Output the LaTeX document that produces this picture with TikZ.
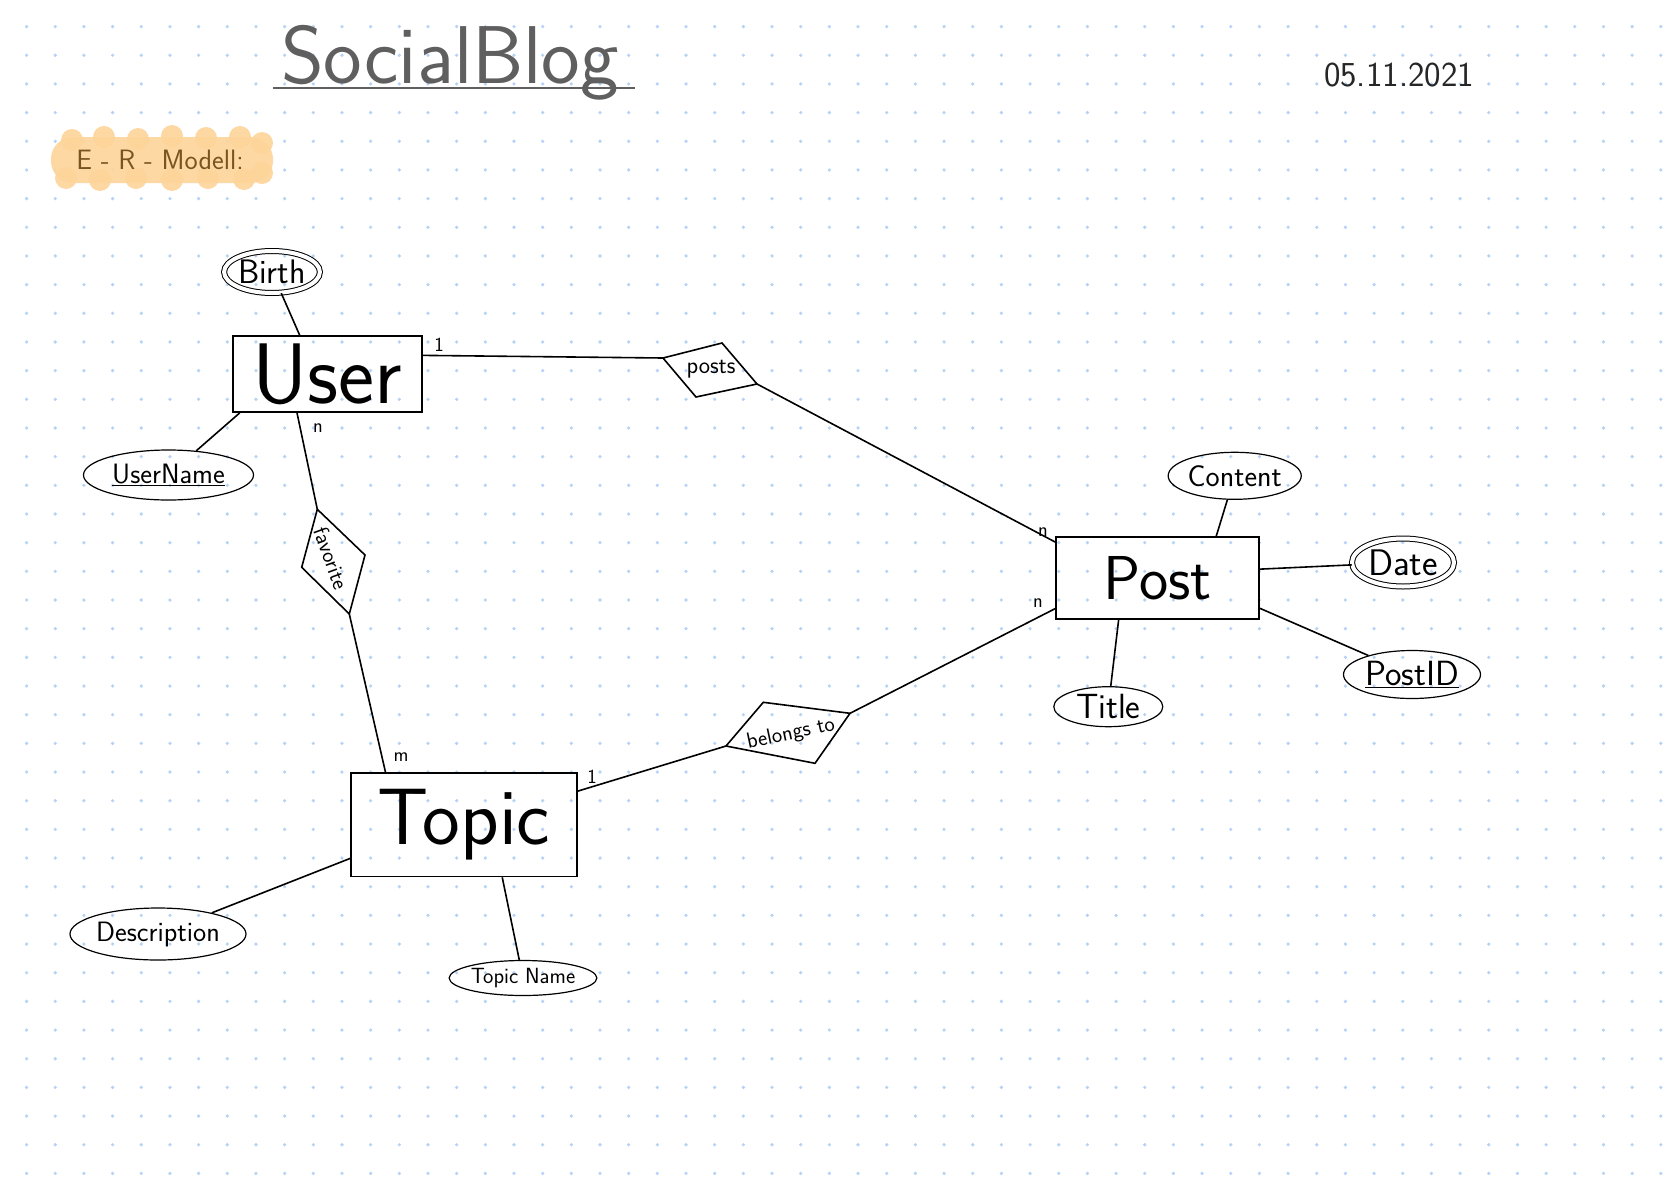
\documentclass[tikz,border=0pt]{standalone}
\usepackage{fontspec}
\usetikzlibrary{shapes.geometric,calc}
\definecolor{dotc}{RGB}{182,210,246}
\definecolor{hl}{RGB}{253,213,155}
\definecolor{hltext}{RGB}{120,85,30}
\definecolor{titlec}{RGB}{95,95,95}
\begin{document}
\begin{tikzpicture}[x=1pt,y=-1pt,
  ent/.style={draw,line width=1.6pt,inner sep=0pt,font=\sffamily\fontsize{#1}{#1}\selectfont},
  attr/.style={draw,ellipse,line width=1.2pt,inner sep=0pt,font=\sffamily\fontsize{#1}{#1}\selectfont},
  dblattr/.style={attr=#1,double,double distance=4pt,line width=1pt},
  conn/.style={line width=1.6pt},
  rel/.style={draw,line width=1.6pt,line join=miter},
  reltext/.style={inner sep=0pt,font=\sffamily\fontsize{#1}{#1}\selectfont},
  card/.style={inner sep=0pt,font=\sffamily\fontsize{20}{20}\selectfont}]
\useasboundingbox (0,0) rectangle (1678,1186);
\fill[white] (0,0) rectangle (1678,1186);
% dot grid
\foreach \i in {0,...,57}{\foreach \j in {0,...,40}{\fill[dotc] (26.6+28.67*\i,26.6+28.67*\j) circle (1.8pt);}}
% highlight
\begin{scope}[opacity=0.92]
\fill[hl,rounded corners=22pt] (51,137) rectangle (273,183);
\foreach \p in {(72,140),(104,137),(138,139),(172,136),(206,138),(240,137),(262,143),(66,178),(100,180),(136,178),(172,180),(208,178),(244,179),(262,173)}{\fill[hl] \p circle (11pt);}
\end{scope}
\node[font=\sffamily\fontsize{28}{30}\selectfont,text=hltext] (er) at (160,160) {E - R - Modell:};
% title and date
\node[anchor=base,font=\sffamily\fontsize{82}{86}\selectfont,text=titlec,inner sep=0pt] (title) at (450,83) {SocialBlog};
\coordinate (ul1) at (273,88);
\coordinate (ul2) at (635,88);
\draw[line width=1.6pt,titlec] (ul1) -- (ul2);
\node[font=\sffamily\fontsize{35}{36}\selectfont,text=black!85] (date) at (1399,75) {05.11.2021};
% entities
\node[ent=86,minimum width=189pt,minimum height=76pt] (user) at (327.5,374) {User};
\node[ent=62,minimum width=203pt,minimum height=82pt] (post) at (1157.5,578) {Post};
\node[ent=80,minimum width=226pt,minimum height=103.5pt] (topic) at (464,824.75) {Topic\hspace{26pt}};
% attributes
\node[dblattr=34,minimum width=90pt,minimum height=42pt] (birth) at (272,272) {Birth};
\node[attr=28,minimum width=170pt,minimum height=50pt] (uname) at (168.5,475) {\underline{UserName}};
\node[attr=30,minimum width=131pt,minimum height=47pt] (content) at (1234.7,475.8) {Content};
\node[dblattr=37,minimum width=102pt,minimum height=48pt] (date2) at (1403,562.5) {Date};
\node[attr=35,minimum width=137pt,minimum height=48pt] (postid) at (1412,674.5) {\underline{PostID}};
\node[attr=35,minimum width=109pt,minimum height=40pt] (title2) at (1108.3,706.7) {Title};
\node[attr=28,minimum width=176pt,minimum height=52pt] (descr) at (158,934) {Description};
\node[attr=22,minimum width=146pt,minimum height=35pt] (tname) at (523,978) {Topic Name};
% border points
\coordinate (uT) at ($(user.north west)!0.354!(user.north east)$);
\coordinate (uBL) at ($(user.south west)!0.04!(user.south east)$);
\coordinate (uB) at ($(user.south west)!0.34!(user.south east)$);
\coordinate (uR) at ($(user.north east)!0.26!(user.south east)$);
\coordinate (pL1) at ($(post.north west)!0.07!(post.south west)$);
\coordinate (pL2) at ($(post.north west)!0.866!(post.south west)$);
\coordinate (pT) at ($(post.north west)!0.787!(post.north east)$);
\coordinate (pR1) at ($(post.north east)!0.394!(post.south east)$);
\coordinate (pR2) at ($(post.north east)!0.862!(post.south east)$);
\coordinate (pB) at ($(post.south west)!0.31!(post.south east)$);
\coordinate (tT) at ($(topic.north west)!0.155!(topic.north east)$);
\coordinate (tR) at ($(topic.north east)!0.18!(topic.south east)$);
\coordinate (tL) at ($(topic.north west)!0.82!(topic.south west)$);
\coordinate (tB) at ($(topic.south west)!0.668!(topic.south east)$);
% relationships
\coordinate (pA) at (663,358); \coordinate (pBv) at (722,343);
\coordinate (pC) at (757,384); \coordinate (pD) at (696,397);
\draw[rel] (pA) -- (pBv) -- (pC) -- (pD) -- cycle;
\node[reltext=24] (posts) at (711,369) {posts};
\coordinate (fA) at (317.3,509.3); \coordinate (fB) at (365,555);
\coordinate (fC) at (349.3,614); \coordinate (fD) at (301.7,567.3);
\draw[rel] (fA) -- (fB) -- (fC) -- (fD) -- cycle;
\node[reltext=22,rotate=-70] (fav) at (331,558) {favorite};
\coordinate (bA) at (726,746); \coordinate (bB) at (763.3,702.3);
\coordinate (bC) at (850,713.3); \coordinate (bD) at (815,763.3);
\draw[rel] (bA) -- (bB) -- (bC) -- (bD) -- cycle;
\node[reltext=22,rotate=12] (belongs) at (791,734) {belongs to};
% connectors
\draw[conn] (birth) -- (uT);
\draw[conn] (uname) -- (uBL);
\draw[conn] (uR) -- (pA);
\draw[conn] (pC) -- (pL1);
\draw[conn] (uB) -- (fA);
\draw[conn] (fC) -- (tT);
\draw[conn] (tR) -- (bA);
\draw[conn] (bC) -- (pL2);
\draw[conn] (content) -- (pT);
\draw[conn] (date2) -- (pR1);
\draw[conn] (postid) -- (pR2);
\draw[conn] (title2) -- (pB);
\draw[conn] (descr) -- (tL);
\draw[conn] (tname) -- (tB);
% cardinalities
\node[card] (c1) at (439,345) {1};
\node[card] (c2) at (318,428) {n};
\node[card] (c3) at (1043,532) {n};
\node[card] (c4) at (1038,603) {n};
\node[card] (c5) at (592,777) {1};
\node[card] (c6) at (401,757) {m};
\end{tikzpicture}
\end{document}
